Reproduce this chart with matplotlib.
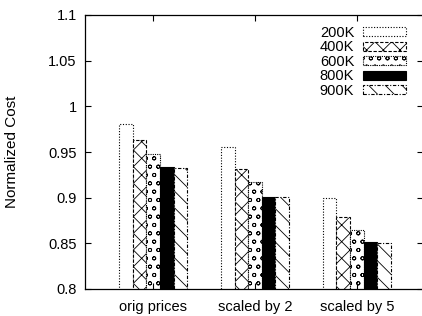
import matplotlib
matplotlib.use("Agg")
import matplotlib.pyplot as plt
import numpy as np
from matplotlib.patches import Patch
from matplotlib.ticker import FormatStrFormatter

plt.rcParams['font.family'] = ['Liberation Sans', 'DejaVu Sans']
plt.rcParams['hatch.linewidth'] = 0.6

# data
groups = ['orig prices', 'scaled by 2', 'scaled by 5']
sizes = ['200K', '400K', '600K', '800K', '900K']
cost_200k = [0.981, 0.955, 0.900]
cost_400k = [0.963, 0.931, 0.879]
cost_600k = [0.948, 0.917, 0.865]
cost_800k = [0.934, 0.901, 0.851]
cost_900k = [0.933, 0.901, 0.850]
series = [cost_200k, cost_400k, cost_600k, cost_800k, cost_900k]

# bar styles (gnuplot-like patterns)
styles = [
    dict(facecolor='white', hatch='', linestyle=(0, (1, 1.5))),
    dict(facecolor='white', hatch='xx', linestyle=(0, (3, 1.5))),
    dict(facecolor='white', hatch='oo', linestyle=(0, (1, 1))),
    dict(facecolor='black', hatch='', linestyle='solid'),
    dict(facecolor='white', hatch='\\\\', linestyle=(0, (3, 1.5, 1, 1.5))),
]

fig = plt.figure(figsize=(4.22, 3.16), dpi=100)
ax = fig.add_axes([85 / 422, 27 / 316, 337.5 / 422, 274 / 316])

x = np.arange(len(groups))
w = 0.134
handles = []
for i, (vals, st) in enumerate(zip(series, styles)):
    pos = x + (i - 2) * w
    ax.bar(pos, vals, width=w, bottom=0, facecolor=st['facecolor'],
           edgecolor='black', hatch=st['hatch'], linewidth=0.8,
           linestyle=st['linestyle'])
    handles.append(Patch(facecolor=st['facecolor'], edgecolor='black',
                         hatch=st['hatch'], linewidth=0.8,
                         linestyle=st['linestyle'], label=sizes[i]))

ax.set_ylim(0.8, 1.1)
ax.set_xlim(-0.67, 2.645)
ax.set_yticks([0.8, 0.85, 0.9, 0.95, 1.0, 1.05, 1.1])
ax.yaxis.set_major_formatter(FormatStrFormatter('%g'))
ax.set_xticks(x)
ax.set_xticklabels(groups)
ax.tick_params(direction='in', top=True, right=True, length=4, width=0.8,
               labelsize=10.5)
ax.tick_params(axis='y', pad=6)
ax.tick_params(axis='x', pad=8)
ax.spines['right'].set_visible(False)
for s in ['left', 'top', 'bottom']:
    ax.spines[s].set_linewidth(0.9)

ax.set_ylabel('Normalized Cost', fontsize=11)
ax.yaxis.set_label_coords(-0.196, 0.5)

ax.legend(handles=handles, loc='upper right', bbox_to_anchor=(0.951, 0.96),
          frameon=False, markerfirst=False, fontsize=10.5, handlelength=2.95,
          handleheight=0.55, labelspacing=0.03, handletextpad=0.6,
          borderaxespad=0, borderpad=0)

fig.savefig('out.png', dpi=100)
